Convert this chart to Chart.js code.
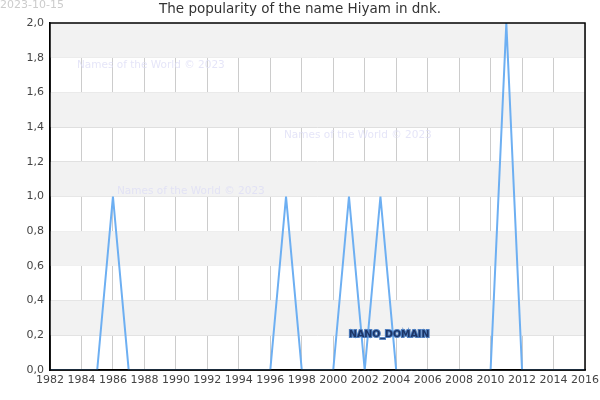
<!DOCTYPE html>
<html>
<head>
<meta charset="utf-8">
<script src="https://cdn.jsdelivr.net/npm/chart.js@4/dist/chart.umd.min.js"></script>
<style>
  html, body { margin: 0; padding: 0; background: #fff; }
  #wrap { width: 600px; height: 400px; }
</style>
</head>
<body>
<div id="wrap"><canvas id="chart" width="600" height="400"></canvas></div>
<script>
const years = [1982,1983,1984,1985,1986,1987,1988,1989,1990,1991,1992,1993,1994,1995,1996,1997,1998,1999,
  2000,2001,2002,2003,2004,2005,2006,2007,2008,2009,2010,2011,2012,2013,2014,2015,2016];
const counts = [0,0,0,0,1,0,0,0,0,0,0,0,0,0,0,1,0,0,
  0,1,0,1,0,0,0,0,0,0,0,2,0,0,0,0,0];
const titleText = 'The popularity of the name Hiyam in dnk.';
const stampText = '2023-10-15';
const watermark = 'Names of the World © 2023';
const FONT = '"DejaVu Sans", sans-serif';

const decor = {
  id: 'decor',
  beforeDatasetsDraw(chart) {
    const { ctx, chartArea: a, scales: { y } } = chart;
    ctx.save();
    // alternating bands
    ctx.fillStyle = '#f2f2f2';
    for (let v = 0.2; v < 2.0; v += 0.4) {
      const top = y.getPixelForValue(v + 0.2), bot = y.getPixelForValue(v);
      ctx.fillRect(a.left, top, a.right - a.left, bot - top);
    }
    ctx.restore();
  },
  afterDraw(chart) {
    const { ctx } = chart;
    ctx.save();
    ctx.font = '11px ' + FONT;
    ctx.textBaseline = 'top';
    ctx.fillStyle = '#cccccc';
    ctx.fillText(stampText, 0, 0);
    ctx.fillStyle = '#333';
    ctx.font = '13.5px ' + FONT;
    ctx.textAlign = 'center';
    ctx.fillText(titleText, 300, 3);
    ctx.textAlign = 'left';
    ctx.font = '10.5px ' + FONT;
    ctx.fillStyle = 'rgba(220,220,245,0.75)';
    ctx.fillText(watermark, 77, 60);
    ctx.fillText(watermark, 284, 130);
    ctx.fillText(watermark, 117, 186);
    ctx.font = 'bold 9.5px ' + FONT;
    ctx.lineWidth = 2;
    ctx.strokeStyle = '#4f7fc0';
    ctx.strokeText('NANO_DOMAIN', 349, 330);
    ctx.fillStyle = '#1c3566';
    ctx.fillText('NANO_DOMAIN', 349, 330);
    ctx.restore();
  }
};

new Chart(document.getElementById('chart'), {
  type: 'line',
  data: {
    labels: years,
    datasets: [{
      data: years.map((yr, i) => ({ x: yr, y: counts[i] })),
      borderColor: '#6daff2',
      borderWidth: 2,
      pointRadius: 0,
      tension: 0,
      fill: false
    }]
  },
  options: {
    responsive: false,
    animation: false,
    devicePixelRatio: 1,
    layout: { padding: { top: 23, right: 0, left: 0, bottom: 0 } },
    plugins: { legend: { display: false }, title: { display: false }, tooltip: { enabled: false } },
    scales: {
      x: {
        type: 'linear', min: 1982, max: 2016,
        afterFit(s) { s.height = 30; s.paddingRight = 15; },
        ticks: { stepSize: 2, color: '#444', font: { family: FONT, size: 11 }, maxRotation: 0, padding: 4,
          callback: v => String(v) },
        grid: { color: '#cccccc', lineWidth: 1, drawTicks: false },
        border: { color: '#000', width: 1.5 }
      },
      y: {
        min: 0, max: 2,
        afterFit(s) { s.width = 50; },
        ticks: { stepSize: 0.2, color: '#444', font: { family: FONT, size: 11 }, padding: 6,
          callback: v => v.toFixed(1).replace('.', ',') },
        grid: { color: '#dddddd', lineWidth: 1, drawTicks: false },
        border: { color: '#000', width: 1.5 }
      }
    }
  },
  plugins: [decor, {
    id: 'frame',
    afterDatasetsDraw(chart) {
      const { ctx, chartArea: a } = chart;
      ctx.save();
      ctx.strokeStyle = '#000';
      ctx.lineWidth = 1.5;
      ctx.strokeRect(a.left, a.top, a.right - a.left, a.bottom - a.top);
      ctx.restore();
    }
  }]
});
</script>
</body>
</html>
